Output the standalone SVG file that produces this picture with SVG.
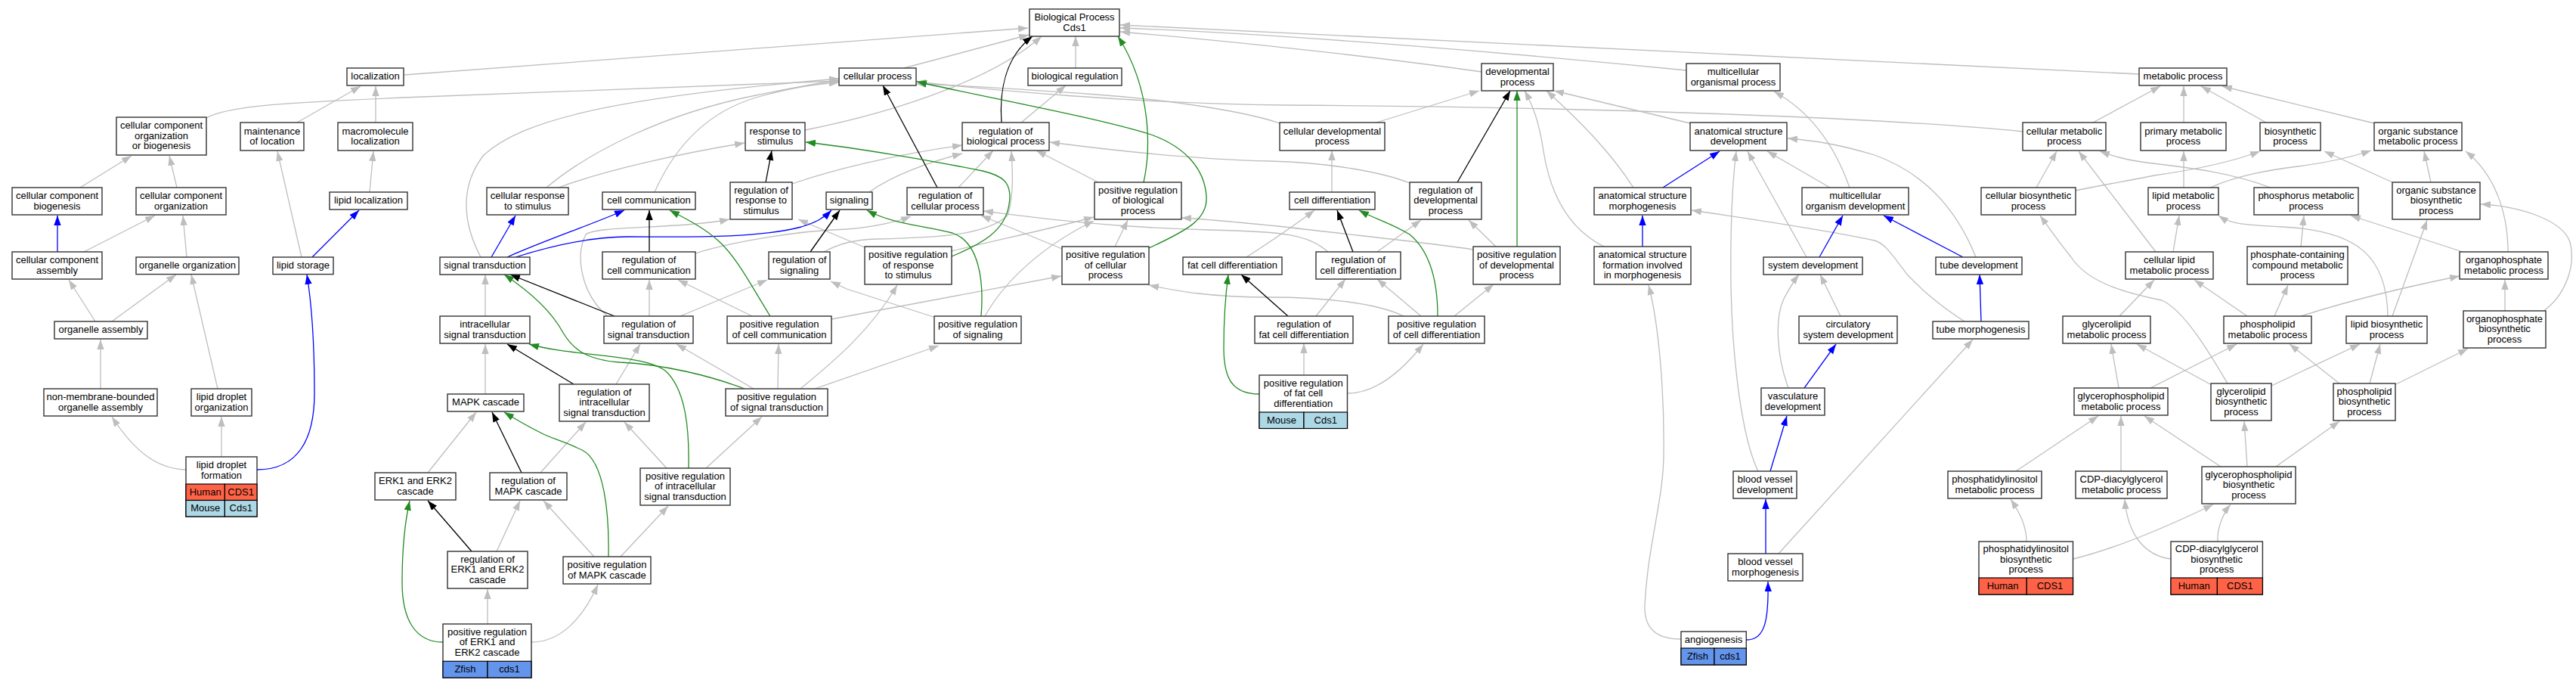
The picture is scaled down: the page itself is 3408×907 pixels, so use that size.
<svg xmlns="http://www.w3.org/2000/svg" width="3408" height="907" viewBox="0 0 3408 907">
<defs>
<style>
.n{fill:#fff;stroke:#333;stroke-width:1.4}
.c{stroke:#000;stroke-width:1.2}
.hu{fill:#ff6347}.mo{fill:#add8e6}.zf{fill:#6495ed}
.t{font-family:"Liberation Sans",Arial,sans-serif;font-size:13px;text-anchor:middle;fill:#000}
.e{fill:none;stroke-width:1.3}
.g{stroke:#bebebe;marker-end:url(#ag)}
.b{stroke:#0000ff;marker-end:url(#ab)}
.k{stroke:#000;marker-end:url(#ak)}
.r{stroke:#228b22;marker-end:url(#ar)}
</style>
<marker id="ag" viewBox="0 0 13 9.4" refX="13" refY="4.7" markerWidth="13" markerHeight="9.4" markerUnits="userSpaceOnUse" orient="auto"><path d="M0,0L13,4.7L0,9.4z" fill="#bebebe"/></marker>
<marker id="ab" viewBox="0 0 13 9.4" refX="13" refY="4.7" markerWidth="13" markerHeight="9.4" markerUnits="userSpaceOnUse" orient="auto"><path d="M0,0L13,4.7L0,9.4z" fill="#0000ff"/></marker>
<marker id="ak" viewBox="0 0 13 9.4" refX="13" refY="4.7" markerWidth="13" markerHeight="9.4" markerUnits="userSpaceOnUse" orient="auto"><path d="M0,0L13,4.7L0,9.4z" fill="#000"/></marker>
<marker id="ar" viewBox="0 0 13 9.4" refX="13" refY="4.7" markerWidth="13" markerHeight="9.4" markerUnits="userSpaceOnUse" orient="auto"><path d="M0,0L13,4.7L0,9.4z" fill="#228b22"/></marker>
</defs>
<rect width="3408" height="907" fill="#fff"/>
<g id="connectors">
<path class="e g" d="M535,99 L1360,37"/>
<path class="e g" d="M1196,90 L1361,46"/>
<path class="e g" d="M1423,90 L1423,48"/>
<path class="e g" d="M1960,95 C1800,72 1600,52 1482,42"/>
<path class="e g" d="M2231,93 C2000,70 1700,45 1482,37"/>
<path class="e g" d="M2830,98 L1482,33"/>
<path class="e g" d="M1065,172 C1200,145 1320,100 1378,48"/>
<path class="e g" d="M273,156 C300,140 380,135 560,128 L1110,107"/>
<path class="e g" d="M393,162 L477,114"/>
<path class="e g" d="M497,162 L497,114"/>
<path class="e g" d="M106,248 L174,206"/>
<path class="e g" d="M234,248 L224,206"/>
<path class="e g" d="M489,254 L494,200"/>
<path class="e g" d="M111,333 L205,285"/>
<path class="e g" d="M247,340 L242,285"/>
<path class="e g" d="M399,340 L367,200"/>
<path class="e g" d="M126,425 L91,370"/>
<path class="e g" d="M148,425 L233,363"/>
<path class="e g" d="M133,514 L133,449"/>
<path class="e g" d="M288,514 L253,363"/>
<path class="e g" d="M246,621 C210,620 180,600 148,551"/>
<path class="e g" d="M293,604 L293,551"/>
<path class="e g" d="M739,248 C800,225 900,203 985,189"/>
<path class="e g" d="M723,248 C780,200 880,150 1000,126 C1050,116 1080,110 1110,106"/>
<path class="e g" d="M866,254 C890,200 930,150 1000,129 C1050,115 1080,111 1110,109"/>
<path class="e g" d="M636,340 C615,300 605,250 640,205 C690,160 800,130 1110,104"/>
<path class="e g" d="M1048,243 C1100,225 1180,205 1273,192"/>
<path class="e g" d="M1150,254 C1180,232 1230,214 1273,203"/>
<path class="e g" d="M920,335 C960,322 1050,305 1120,303 C1160,300 1190,292 1205,286"/>
<path class="e g" d="M1090,333 C1110,322 1130,317 1160,316 C1250,314 1305,310 1333,285 C1341,260 1340,230 1338,200"/>
<path class="e g" d="M1268,248 L1314,199"/>
<path class="e g" d="M1351,162 L1410,113"/>
<path class="e g" d="M1453,241 L1371,199"/>
<path class="e g" d="M1475,326 L1492,291"/>
<path class="e g" d="M1405,329 L1298,285"/>
<path class="e g" d="M1144,327 L1056,290"/>
<path class="e g" d="M1259,332 C1330,315 1400,300 1447,287"/>
<path class="e g" d="M1303,418 C1330,370 1380,325 1447,292"/>
<path class="e g" d="M1100,422 L1404,365"/>
<path class="e g" d="M1235,419 L1120,382 L1099,372"/>
<path class="e g" d="M1059,514 C1100,480 1150,440 1187,377"/>
<path class="e g" d="M1078,514 L1242,457"/>
<path class="e g" d="M1649,340 C1680,320 1710,300 1739,278"/>
<path class="e g" d="M1857,418 C1820,400 1750,393 1680,393 C1600,393 1560,385 1520,377"/>
<path class="e g" d="M1757,333 C1730,310 1700,306 1600,304 C1450,300 1350,285 1301,279"/>
<path class="e g" d="M1949,330 C1900,322 1800,312 1700,300 C1650,295 1600,290 1563,288"/>
<path class="e g" d="M1693,163 C1650,148 1550,132 1450,125 C1350,118 1260,112 1212,111"/>
<path class="e g" d="M2676,174 C2500,156 2100,141 1700,139 C1500,137 1300,118 1212,108"/>
<path class="e g" d="M1821,162 L1957,120"/>
<path class="e g" d="M2122,326 C2070,300 2050,250 2042,200 C2036,160 2028,140 2017,120"/>
<path class="e g" d="M2161,248 C2130,200 2090,160 2046,120"/>
<path class="e g" d="M2236,163 L2056,120"/>
<path class="e g" d="M1762,254 L1762,199"/>
<path class="e g" d="M1822,333 L1880,291"/>
<path class="e g" d="M1979,326 L1943,291"/>
<path class="e g" d="M1741,418 L1780,369"/>
<path class="e g" d="M1880,418 L1822,369"/>
<path class="e g" d="M1924,418 L1976,376"/>
<path class="e g" d="M2599,425 C2560,400 2540,380 2525,365 C2505,340 2495,322 2480,318 C2420,305 2320,290 2238,278"/>
<path class="e g" d="M2224,845 C2190,845 2175,830 2176,800 C2180,720 2201,660 2201,600 C2202,520 2195,430 2181,377"/>
<path class="e g" d="M1725,496 L1725,454"/>
<path class="e g" d="M1783,520 C1820,520 1855,490 1883,455"/>
<path class="e g" d="M2447,248 C2430,200 2400,150 2347,121"/>
<path class="e g" d="M2421,248 L2338,200"/>
<path class="e g" d="M2390,340 L2312,200"/>
<path class="e g" d="M2614,340 C2590,280 2550,230 2480,205 C2430,190 2400,186 2365,183"/>
<path class="e g" d="M2326,623 C2305,580 2292,480 2290,380 C2289,300 2292,240 2297,200"/>
<path class="e g" d="M2435,418 L2408,363"/>
<path class="e g" d="M2366,513 C2350,470 2348,420 2360,395 C2367,382 2372,373 2380,363"/>
<path class="e g" d="M2353,732 L2610,449"/>
<path class="e g" d="M2694,248 L2721,200"/>
<path class="e g" d="M2746,252 C2780,245 2820,238 2850,232 C2900,225 2950,215 2990,200"/>
<path class="e g" d="M2852,333 L2750,200"/>
<path class="e g" d="M2769,162 L2858,114"/>
<path class="e g" d="M2947,507 C2925,470 2890,410 2860,397 C2800,385 2760,370 2740,340 C2720,315 2710,300 2699,285"/>
<path class="e g" d="M2889,162 L2889,114"/>
<path class="e g" d="M2998,162 L2912,114"/>
<path class="e g" d="M3141,163 L2940,114"/>
<path class="e g" d="M2889,248 L2889,200"/>
<path class="e g" d="M2924,248 C2960,232 3000,225 3040,220 C3080,215 3110,208 3137,199"/>
<path class="e g" d="M3004,248 C2950,228 2900,222 2840,215 C2810,211 2795,206 2778,200"/>
<path class="e g" d="M3165,241 L3075,200"/>
<path class="e g" d="M3216,241 L3207,200"/>
<path class="e g" d="M2875,333 L2883,285"/>
<path class="e g" d="M3044,326 L3048,285"/>
<path class="e g" d="M3258,333 L3110,285"/>
<path class="e g" d="M3318,333 C3318,280 3300,230 3262,200"/>
<path class="e g" d="M3314,411 L3314,370"/>
<path class="e g" d="M3364,412 C3395,390 3408,350 3400,320 C3390,290 3330,272 3282,270"/>
<path class="e g" d="M3159,418 C3158,340 3120,305 3020,300 C2960,297 2950,295 2935,285"/>
<path class="e g" d="M3165,418 L3211,291"/>
<path class="e g" d="M2973,418 L2903,370"/>
<path class="e g" d="M3009,418 L3027,377"/>
<path class="e g" d="M3044,418 C3100,400 3180,380 3254,365"/>
<path class="e g" d="M2804,418 L2850,370"/>
<path class="e g" d="M2803,513 L2793,455"/>
<path class="e g" d="M2845,513 L2959,455"/>
<path class="e g" d="M2924,508 L2827,455"/>
<path class="e g" d="M3005,510 L3122,455"/>
<path class="e g" d="M3095,507 L3029,455"/>
<path class="e g" d="M3135,507 L3149,455"/>
<path class="e g" d="M3170,508 L3265,461"/>
<path class="e g" d="M2938,617 L2837,550"/>
<path class="e g" d="M2973,617 L2969,557"/>
<path class="e g" d="M3011,617 L3095,557"/>
<path class="e g" d="M2806,623 L2806,550"/>
<path class="e g" d="M2667,623 L2776,550"/>
<path class="e g" d="M2681,716 C2681,695 2672,678 2660,660"/>
<path class="e g" d="M2743,739 C2800,725 2870,695 2928,667"/>
<path class="e g" d="M2872,739 C2840,735 2815,710 2811,660"/>
<path class="e g" d="M2934,716 C2933,700 2940,680 2951,667"/>
<path class="e g" d="M642,521 L642,455"/>
<path class="e g" d="M815,508 L847,455"/>
<path class="e g" d="M997,514 L895,455"/>
<path class="e g" d="M1029,514 L1030,455"/>
<path class="e g" d="M566,625 L630,545"/>
<path class="e g" d="M715,625 L775,558"/>
<path class="e g" d="M882,619 L826,558"/>
<path class="e g" d="M934,619 L1008,551"/>
<path class="e g" d="M657,729 L688,662"/>
<path class="e g" d="M786,736 L719,662"/>
<path class="e g" d="M821,736 L884,669"/>
<path class="e g" d="M645,825 L645,779"/>
<path class="e g" d="M703,849 C740,849 770,820 791,773"/>
<path class="e g" d="M642,418 L642,363"/>
<path class="e g" d="M859,418 L859,370"/>
<path class="e g" d="M900,418 L1015,370"/>
<path class="e g" d="M804,418 C770,390 760,340 775,310 C790,298 900,303 965,290"/>
<path class="e g" d="M995,418 L897,370"/>
<path class="e g" d="M1865,242 C1830,228 1760,215 1680,213 C1560,210 1450,196 1389,188"/>
<path class="e b" d="M76,333 L76,285"/>
<path class="e b" d="M413,340 L475,278"/>
<path class="e b" d="M340,621 C395,621 416,580 416,520 C416,460 412,400 406,363"/>
<path class="e b" d="M650,340 L682,285"/>
<path class="e b" d="M671,340 C720,318 780,298 826,278"/>
<path class="e b" d="M682,340 C730,325 780,313 830,313 C900,313 1000,316 1060,300 C1080,294 1090,288 1100,278"/>
<path class="e b" d="M2200,248 L2275,200"/>
<path class="e b" d="M2173,326 L2173,285"/>
<path class="e b" d="M2407,340 L2438,285"/>
<path class="e b" d="M2597,340 L2492,285"/>
<path class="e b" d="M2621,425 L2619,363"/>
<path class="e b" d="M2387,513 L2429,455"/>
<path class="e b" d="M2342,623 L2364,550"/>
<path class="e b" d="M2336,732 L2336,660"/>
<path class="e b" d="M2311,846 C2335,846 2340,820 2339,769"/>
<path class="e k" d="M1325,162 C1322,120 1330,75 1366,48"/>
<path class="e k" d="M1240,248 L1168,113"/>
<path class="e k" d="M1013,241 L1021,199"/>
<path class="e k" d="M859,333 L859,278"/>
<path class="e k" d="M1072,333 L1111,278"/>
<path class="e k" d="M813,418 L675,363"/>
<path class="e k" d="M759,508 L671,455"/>
<path class="e k" d="M690,625 L651,545"/>
<path class="e k" d="M624,729 L566,662"/>
<path class="e k" d="M1928,241 L1998,120"/>
<path class="e k" d="M1790,333 L1769,278"/>
<path class="e k" d="M1704,418 L1642,363"/>
<path class="e r" d="M1513,241 C1522,200 1525,120 1479,48"/>
<path class="e r" d="M1520,328 C1570,305 1598,290 1596,260 C1594,225 1570,195 1523,178 C1450,155 1300,128 1213,108"/>
<path class="e r" d="M1259,339 C1300,322 1330,305 1335,270 C1340,240 1325,232 1300,226 C1230,212 1130,195 1066,188"/>
<path class="e r" d="M1019,418 C995,380 975,340 950,318 C930,300 905,288 886,278"/>
<path class="e r" d="M1298,418 C1302,370 1295,320 1260,308 C1220,298 1180,296 1147,278"/>
<path class="e r" d="M985,514 C940,497 880,482 820,479 C780,476 760,465 745,440 C730,412 700,385 667,363"/>
<path class="e r" d="M911,619 C912,570 908,515 880,490 C850,468 760,472 700,455"/>
<path class="e r" d="M805,736 C806,680 800,610 770,595 C745,583 730,580 715,572 C695,562 680,553 667,545"/>
<path class="e r" d="M586,849 C550,849 532,820 532,770 C532,710 538,680 542,662"/>
<path class="e r" d="M2007,326 L2007,120"/>
<path class="e r" d="M1902,418 C1902,380 1895,335 1865,310 C1840,295 1820,290 1798,278"/>
<path class="e r" d="M1666,521 C1630,521 1619,500 1619,460 C1619,420 1622,385 1625,363"/>
</g>
<g id="n1"><rect class="n" x="459" y="90" width="75" height="23"/><text class="t" x="496.5" y="105.25">localization</text></g>
<g id="n2"><rect class="n" x="154" y="155" width="119" height="50"/><text class="t" y="170.25"><tspan x="213.5">cellular component</tspan><tspan x="213.5" dy="13.5">organization</tspan><tspan x="213.5" dy="13.5">or biogenesis</tspan></text></g>
<g id="n3"><rect class="n" x="318" y="162" width="84" height="37"/><text class="t" y="177.5"><tspan x="360">maintenance</tspan><tspan x="360" dy="13.5">of location</tspan></text></g>
<g id="n4"><rect class="n" x="447" y="162" width="99" height="37"/><text class="t" y="177.5"><tspan x="496.5">macromolecule</tspan><tspan x="496.5" dy="13.5">localization</tspan></text></g>
<g id="n5"><rect class="n" x="16" y="248" width="119" height="36"/><text class="t" y="263"><tspan x="75.5">cellular component</tspan><tspan x="75.5" dy="13.5">biogenesis</tspan></text></g>
<g id="n6"><rect class="n" x="180" y="248" width="119" height="36"/><text class="t" y="263"><tspan x="239.5">cellular component</tspan><tspan x="239.5" dy="13.5">organization</tspan></text></g>
<g id="n7"><rect class="n" x="436" y="254" width="103" height="23"/><text class="t" x="487.5" y="269.25">lipid localization</text></g>
<g id="n8"><rect class="n" x="16" y="333" width="119" height="36"/><text class="t" y="348"><tspan x="75.5">cellular component</tspan><tspan x="75.5" dy="13.5">assembly</tspan></text></g>
<g id="n9"><rect class="n" x="180" y="340" width="136" height="22.6"/><text class="t" x="248" y="355">organelle organization</text></g>
<g id="n10"><rect class="n" x="361" y="340" width="80" height="22.6"/><text class="t" x="401" y="355">lipid storage</text></g>
<g id="n11"><rect class="n" x="72" y="425" width="123" height="23"/><text class="t" x="133.5" y="440.25">organelle assembly</text></g>
<g id="n12"><rect class="n" x="58" y="514" width="150" height="36"/><text class="t" y="529"><tspan x="133">non-membrane-bounded</tspan><tspan x="133" dy="13.5">organelle assembly</tspan></text></g>
<g id="n13"><rect class="n" x="253" y="514" width="80" height="36"/><text class="t" y="529"><tspan x="293">lipid droplet</tspan><tspan x="293" dy="13.5">organization</tspan></text></g>
<g id="n14"><rect class="n" x="246" y="604" width="94" height="79"/><text class="t" y="619"><tspan x="293">lipid droplet</tspan><tspan x="293" dy="13.5">formation</tspan></text>
<rect class="c hu" x="246" y="640" width="51.4" height="21.5"/><rect class="c hu" x="297.4" y="640" width="42.6" height="21.5"/><rect class="c mo" x="246" y="661.5" width="51.4" height="21.5"/><rect class="c mo" x="297.4" y="661.5" width="42.6" height="21.5"/>
<text class="t" x="271.7" y="654.5">Human</text><text class="t" x="318.7" y="654.5">CDS1</text><text class="t" x="271.7" y="676">Mouse</text><text class="t" x="318.7" y="676">Cds1</text></g>
<g id="n15"><rect class="n" x="496" y="625" width="107" height="36"/><text class="t" y="640"><tspan x="549.5">ERK1 and ERK2</tspan><tspan x="549.5" dy="13.5">cascade</tspan></text></g>
<g id="n16"><rect class="n" x="1110" y="90" width="102" height="23"/><text class="t" x="1161" y="105.25">cellular process</text></g>
<g id="n17"><rect class="n" x="986" y="162" width="79" height="37"/><text class="t" y="177.5"><tspan x="1025.5">response to</tspan><tspan x="1025.5" dy="13.5">stimulus</tspan></text></g>
<g id="n18"><rect class="n" x="644" y="248" width="108" height="36"/><text class="t" y="263"><tspan x="698">cellular response</tspan><tspan x="698" dy="13.5">to stimulus</tspan></text></g>
<g id="n19"><rect class="n" x="797" y="254" width="123" height="23"/><text class="t" x="858.5" y="269.25">cell communication</text></g>
<g id="n20"><rect class="n" x="966" y="241" width="82" height="49"/><text class="t" y="255.75"><tspan x="1007">regulation of</tspan><tspan x="1007" dy="13.5">response to</tspan><tspan x="1007" dy="13.5">stimulus</tspan></text></g>
<g id="n21"><rect class="n" x="1093" y="254" width="61" height="23"/><text class="t" x="1123.5" y="269.25">signaling</text></g>
<g id="n22"><rect class="n" x="582" y="340" width="119" height="23"/><text class="t" x="641.5" y="355.25">signal transduction</text></g>
<g id="n23"><rect class="n" x="797" y="333" width="123" height="36"/><text class="t" y="348"><tspan x="858.5">regulation of</tspan><tspan x="858.5" dy="13.5">cell communication</tspan></text></g>
<g id="n24"><rect class="n" x="1017" y="333" width="81" height="36"/><text class="t" y="348"><tspan x="1057.5">regulation of</tspan><tspan x="1057.5" dy="13.5">signaling</tspan></text></g>
<g id="n25"><rect class="n" x="582" y="418" width="119" height="36"/><text class="t" y="433"><tspan x="641.5">intracellular</tspan><tspan x="641.5" dy="13.5">signal transduction</tspan></text></g>
<g id="n26"><rect class="n" x="799" y="418" width="118" height="36"/><text class="t" y="433"><tspan x="858">regulation of</tspan><tspan x="858" dy="13.5">signal transduction</tspan></text></g>
<g id="n27"><rect class="n" x="962" y="418" width="138" height="36"/><text class="t" y="433"><tspan x="1031">positive regulation</tspan><tspan x="1031" dy="13.5">of cell communication</tspan></text></g>
<g id="n28"><rect class="n" x="592" y="521" width="101" height="23"/><text class="t" x="642.5" y="536.25">MAPK cascade</text></g>
<g id="n29"><rect class="n" x="740" y="508" width="119" height="49"/><text class="t" y="522.75"><tspan x="799.5">regulation of</tspan><tspan x="799.5" dy="13.5">intracellular</tspan><tspan x="799.5" dy="13.5">signal transduction</tspan></text></g>
<g id="n30"><rect class="n" x="960" y="514" width="135" height="36"/><text class="t" y="529"><tspan x="1027.5">positive regulation</tspan><tspan x="1027.5" dy="13.5">of signal transduction</tspan></text></g>
<g id="n31"><rect class="n" x="648" y="625" width="102" height="36"/><text class="t" y="640"><tspan x="699">regulation of</tspan><tspan x="699" dy="13.5">MAPK cascade</tspan></text></g>
<g id="n32"><rect class="n" x="847" y="619" width="119" height="49"/><text class="t" y="633.75"><tspan x="906.5">positive regulation</tspan><tspan x="906.5" dy="13.5">of intracellular</tspan><tspan x="906.5" dy="13.5">signal transduction</tspan></text></g>
<g id="n33"><rect class="n" x="592" y="729" width="106" height="49"/><text class="t" y="743.75"><tspan x="645">regulation of</tspan><tspan x="645" dy="13.5">ERK1 and ERK2</tspan><tspan x="645" dy="13.5">cascade</tspan></text></g>
<g id="n34"><rect class="n" x="745" y="736" width="116" height="36"/><text class="t" y="751"><tspan x="803">positive regulation</tspan><tspan x="803" dy="13.5">of MAPK cascade</tspan></text></g>
<g id="n35"><rect class="n" x="586" y="825" width="117" height="71"/><text class="t" y="839.9"><tspan x="644.5">positive regulation</tspan><tspan x="644.5" dy="13.5">of ERK1 and</tspan><tspan x="644.5" dy="13.5">ERK2 cascade</tspan></text>
<rect class="c zf" x="586" y="874.3" width="59" height="21.7"/><rect class="c zf" x="645" y="874.3" width="58" height="21.7"/>
<text class="t" x="615.5" y="888.9">Zfish</text><text class="t" x="674" y="888.9">cds1</text></g>
<g id="n36"><rect class="n" x="1362" y="12" width="119" height="36"/><text class="t" y="27"><tspan x="1421.5">Biological Process</tspan><tspan x="1421.5" dy="13.5">Cds1</tspan></text></g>
<g id="n37"><rect class="n" x="1360" y="90" width="124" height="23"/><text class="t" x="1422" y="105.25">biological regulation</text></g>
<g id="n38"><rect class="n" x="1273" y="162" width="115" height="37"/><text class="t" y="177.5"><tspan x="1330.5">regulation of</tspan><tspan x="1330.5" dy="13.5">biological process</tspan></text></g>
<g id="n39"><rect class="n" x="1200" y="248" width="101" height="36"/><text class="t" y="263"><tspan x="1250.5">regulation of</tspan><tspan x="1250.5" dy="13.5">cellular process</tspan></text></g>
<g id="n40"><rect class="n" x="1448" y="241" width="115" height="49"/><text class="t" y="255.75"><tspan x="1505.5">positive regulation</tspan><tspan x="1505.5" dy="13.5">of biological</tspan><tspan x="1505.5" dy="13.5">process</tspan></text></g>
<g id="n41"><rect class="n" x="1144" y="326" width="115" height="50"/><text class="t" y="341.25"><tspan x="1201.5">positive regulation</tspan><tspan x="1201.5" dy="13.5">of response</tspan><tspan x="1201.5" dy="13.5">to stimulus</tspan></text></g>
<g id="n42"><rect class="n" x="1405" y="326" width="115" height="50"/><text class="t" y="341.25"><tspan x="1462.5">positive regulation</tspan><tspan x="1462.5" dy="13.5">of cellular</tspan><tspan x="1462.5" dy="13.5">process</tspan></text></g>
<g id="n43"><rect class="n" x="1565" y="340" width="131" height="23"/><text class="t" x="1630.5" y="355.25">fat cell differentiation</text></g>
<g id="n44"><rect class="n" x="1236" y="418" width="115" height="36"/><text class="t" y="433"><tspan x="1293.5">positive regulation</tspan><tspan x="1293.5" dy="13.5">of signaling</tspan></text></g>
<g id="n45"><rect class="n" x="1960" y="84" width="95" height="36"/><text class="t" y="99"><tspan x="2007.5">developmental</tspan><tspan x="2007.5" dy="13.5">process</tspan></text></g>
<g id="n46"><rect class="n" x="2231" y="84" width="124" height="36"/><text class="t" y="99"><tspan x="2293">multicellular</tspan><tspan x="2293" dy="13.5">organismal process</tspan></text></g>
<g id="n47"><rect class="n" x="1693" y="162" width="139" height="37"/><text class="t" y="177.5"><tspan x="1762.5">cellular developmental</tspan><tspan x="1762.5" dy="13.5">process</tspan></text></g>
<g id="n48"><rect class="n" x="2236" y="162" width="128" height="37"/><text class="t" y="177.5"><tspan x="2300">anatomical structure</tspan><tspan x="2300" dy="13.5">development</tspan></text></g>
<g id="n49"><rect class="n" x="1706" y="254" width="113" height="23"/><text class="t" x="1762.5" y="269.25">cell differentiation</text></g>
<g id="n50"><rect class="n" x="1865" y="241" width="95" height="49"/><text class="t" y="255.75"><tspan x="1912.5">regulation of</tspan><tspan x="1912.5" dy="13.5">developmental</tspan><tspan x="1912.5" dy="13.5">process</tspan></text></g>
<g id="n51"><rect class="n" x="2109" y="248" width="128" height="36"/><text class="t" y="263"><tspan x="2173">anatomical structure</tspan><tspan x="2173" dy="13.5">morphogenesis</tspan></text></g>
<g id="n52"><rect class="n" x="1741" y="333" width="112" height="36"/><text class="t" y="348"><tspan x="1797">regulation of</tspan><tspan x="1797" dy="13.5">cell differentiation</tspan></text></g>
<g id="n53"><rect class="n" x="1949" y="326" width="115" height="50"/><text class="t" y="341.25"><tspan x="2006.5">positive regulation</tspan><tspan x="2006.5" dy="13.5">of developmental</tspan><tspan x="2006.5" dy="13.5">process</tspan></text></g>
<g id="n54"><rect class="n" x="2109" y="326" width="128" height="50"/><text class="t" y="341.25"><tspan x="2173">anatomical structure</tspan><tspan x="2173" dy="13.5">formation involved</tspan><tspan x="2173" dy="13.5">in morphogenesis</tspan></text></g>
<g id="n55"><rect class="n" x="1660" y="418" width="130" height="36"/><text class="t" y="433"><tspan x="1725">regulation of</tspan><tspan x="1725" dy="13.5">fat cell differentiation</tspan></text></g>
<g id="n56"><rect class="n" x="1837" y="418" width="127" height="36"/><text class="t" y="433"><tspan x="1900.5">positive regulation</tspan><tspan x="1900.5" dy="13.5">of cell differentiation</tspan></text></g>
<g id="n57"><rect class="n" x="1666" y="496" width="116.5" height="70"/><text class="t" y="510.75"><tspan x="1724.25">positive regulation</tspan><tspan x="1724.25" dy="13.5">of fat cell</tspan><tspan x="1724.25" dy="13.5">differentiation</tspan></text>
<rect class="c mo" x="1666" y="545" width="59" height="21.5"/><rect class="c mo" x="1725" y="545" width="57.5" height="21.5"/>
<text class="t" x="1695.5" y="559.5">Mouse</text><text class="t" x="1753.75" y="559.5">Cds1</text></g>
<g id="n58"><rect class="n" x="2224" y="835" width="86.3" height="44"/><text class="t" x="2267" y="849.75">angiogenesis</text>
<rect class="c zf" x="2224" y="857" width="44" height="22"/><rect class="c zf" x="2268" y="857" width="42.3" height="22"/>
<text class="t" x="2246" y="871.5">Zfish</text><text class="t" x="2289" y="871.5">cds1</text></g>
<g id="n59"><rect class="n" x="2384" y="248" width="141" height="36"/><text class="t" y="263"><tspan x="2454.5">multicellular</tspan><tspan x="2454.5" dy="13.5">organism development</tspan></text></g>
<g id="n60"><rect class="n" x="2676" y="162" width="110" height="37"/><text class="t" y="177.5"><tspan x="2731">cellular metabolic</tspan><tspan x="2731" dy="13.5">process</tspan></text></g>
<g id="n61"><rect class="n" x="2621" y="248" width="125" height="36"/><text class="t" y="263"><tspan x="2683.5">cellular biosynthetic</tspan><tspan x="2683.5" dy="13.5">process</tspan></text></g>
<g id="n62"><rect class="n" x="2333" y="340" width="131" height="23"/><text class="t" x="2398.5" y="355.25">system development</text></g>
<g id="n63"><rect class="n" x="2561" y="340" width="114" height="23"/><text class="t" x="2618" y="355.25">tube development</text></g>
<g id="n64"><rect class="n" x="2380" y="418" width="130" height="36"/><text class="t" y="433"><tspan x="2445">circulatory</tspan><tspan x="2445" dy="13.5">system development</tspan></text></g>
<g id="n65"><rect class="n" x="2557" y="425" width="127" height="23"/><text class="t" x="2620.5" y="440.25">tube morphogenesis</text></g>
<g id="n66"><rect class="n" x="2729" y="418" width="116" height="36"/><text class="t" y="433"><tspan x="2787">glycerolipid</tspan><tspan x="2787" dy="13.5">metabolic process</tspan></text></g>
<g id="n67"><rect class="n" x="2330" y="513" width="84" height="36"/><text class="t" y="528"><tspan x="2372">vasculature</tspan><tspan x="2372" dy="13.5">development</tspan></text></g>
<g id="n68"><rect class="n" x="2293" y="623" width="84" height="36"/><text class="t" y="638"><tspan x="2335">blood vessel</tspan><tspan x="2335" dy="13.5">development</tspan></text></g>
<g id="n69"><rect class="n" x="2286" y="732" width="99" height="36"/><text class="t" y="747"><tspan x="2335.5">blood vessel</tspan><tspan x="2335.5" dy="13.5">morphogenesis</tspan></text></g>
<g id="n70"><rect class="n" x="2577" y="623" width="124" height="36"/><text class="t" y="638"><tspan x="2639">phosphatidylinositol</tspan><tspan x="2639" dy="13.5">metabolic process</tspan></text></g>
<g id="n71"><rect class="n" x="2618" y="716" width="124.5" height="70"/><text class="t" y="730.25"><tspan x="2680.25">phosphatidylinositol</tspan><tspan x="2680.25" dy="13.5">biosynthetic</tspan><tspan x="2680.25" dy="13.5">process</tspan></text>
<rect class="c hu" x="2618" y="764" width="63.3" height="22"/><rect class="c hu" x="2681.3" y="764" width="61.2" height="22"/>
<text class="t" x="2649.6" y="778.5">Human</text><text class="t" x="2712" y="778.5">CDS1</text></g>
<g id="n72"><rect class="n" x="2744" y="513" width="124" height="36"/><text class="t" y="528"><tspan x="2806">glycerophospholipid</tspan><tspan x="2806" dy="13.5">metabolic process</tspan></text></g>
<g id="n73"><rect class="n" x="2746" y="623" width="121" height="36"/><text class="t" y="638"><tspan x="2806.5">CDP-diacylglycerol</tspan><tspan x="2806.5" dy="13.5">metabolic process</tspan></text></g>
<g id="n74"><rect class="n" x="2830" y="90" width="116" height="23"/><text class="t" x="2888" y="105.25">metabolic process</text></g>
<g id="n75"><rect class="n" x="2832" y="162" width="113" height="37"/><text class="t" y="177.5"><tspan x="2888.5">primary metabolic</tspan><tspan x="2888.5" dy="13.5">process</tspan></text></g>
<g id="n76"><rect class="n" x="2990" y="162" width="80" height="37"/><text class="t" y="177.5"><tspan x="3030">biosynthetic</tspan><tspan x="3030" dy="13.5">process</tspan></text></g>
<g id="n77"><rect class="n" x="3141" y="162" width="116" height="37"/><text class="t" y="177.5"><tspan x="3199">organic substance</tspan><tspan x="3199" dy="13.5">metabolic process</tspan></text></g>
<g id="n78"><rect class="n" x="2842" y="248" width="93" height="36"/><text class="t" y="263"><tspan x="2888.5">lipid metabolic</tspan><tspan x="2888.5" dy="13.5">process</tspan></text></g>
<g id="n79"><rect class="n" x="2982" y="248" width="138" height="36"/><text class="t" y="263"><tspan x="3051">phosphorus metabolic</tspan><tspan x="3051" dy="13.5">process</tspan></text></g>
<g id="n80"><rect class="n" x="3165" y="241" width="116" height="49"/><text class="t" y="255.75"><tspan x="3223">organic substance</tspan><tspan x="3223" dy="13.5">biosynthetic</tspan><tspan x="3223" dy="13.5">process</tspan></text></g>
<g id="n81"><rect class="n" x="2812" y="333" width="116" height="36"/><text class="t" y="348"><tspan x="2870">cellular lipid</tspan><tspan x="2870" dy="13.5">metabolic process</tspan></text></g>
<g id="n82"><rect class="n" x="2973" y="326" width="133" height="50"/><text class="t" y="341.25"><tspan x="3039.5">phosphate-containing</tspan><tspan x="3039.5" dy="13.5">compound metabolic</tspan><tspan x="3039.5" dy="13.5">process</tspan></text></g>
<g id="n83"><rect class="n" x="3254" y="333" width="117" height="36"/><text class="t" y="348"><tspan x="3312.5">organophosphate</tspan><tspan x="3312.5" dy="13.5">metabolic process</tspan></text></g>
<g id="n84"><rect class="n" x="2942" y="418" width="116" height="36"/><text class="t" y="433"><tspan x="3000">phospholipid</tspan><tspan x="3000" dy="13.5">metabolic process</tspan></text></g>
<g id="n85"><rect class="n" x="3104" y="418" width="107" height="36"/><text class="t" y="433"><tspan x="3157.5">lipid biosynthetic</tspan><tspan x="3157.5" dy="13.5">process</tspan></text></g>
<g id="n86"><rect class="n" x="3259" y="411" width="109" height="49"/><text class="t" y="425.75"><tspan x="3313.5">organophosphate</tspan><tspan x="3313.5" dy="13.5">biosynthetic</tspan><tspan x="3313.5" dy="13.5">process</tspan></text></g>
<g id="n87"><rect class="n" x="2925" y="507" width="80" height="49"/><text class="t" y="521.75"><tspan x="2965">glycerolipid</tspan><tspan x="2965" dy="13.5">biosynthetic</tspan><tspan x="2965" dy="13.5">process</tspan></text></g>
<g id="n88"><rect class="n" x="3087" y="507" width="82" height="49"/><text class="t" y="521.75"><tspan x="3128">phospholipid</tspan><tspan x="3128" dy="13.5">biosynthetic</tspan><tspan x="3128" dy="13.5">process</tspan></text></g>
<g id="n89"><rect class="n" x="2913" y="617" width="124" height="49"/><text class="t" y="631.75"><tspan x="2975">glycerophospholipid</tspan><tspan x="2975" dy="13.5">biosynthetic</tspan><tspan x="2975" dy="13.5">process</tspan></text></g>
<g id="n90"><rect class="n" x="2872" y="716" width="121.4" height="70"/><text class="t" y="730.25"><tspan x="2932.7">CDP-diacylglycerol</tspan><tspan x="2932.7" dy="13.5">biosynthetic</tspan><tspan x="2932.7" dy="13.5">process</tspan></text>
<rect class="c hu" x="2872" y="764" width="61.4" height="22"/><rect class="c hu" x="2933.4" y="764" width="60" height="22"/>
<text class="t" x="2902.7" y="778.5">Human</text><text class="t" x="2963.4" y="778.5">CDS1</text></g>
</svg>
